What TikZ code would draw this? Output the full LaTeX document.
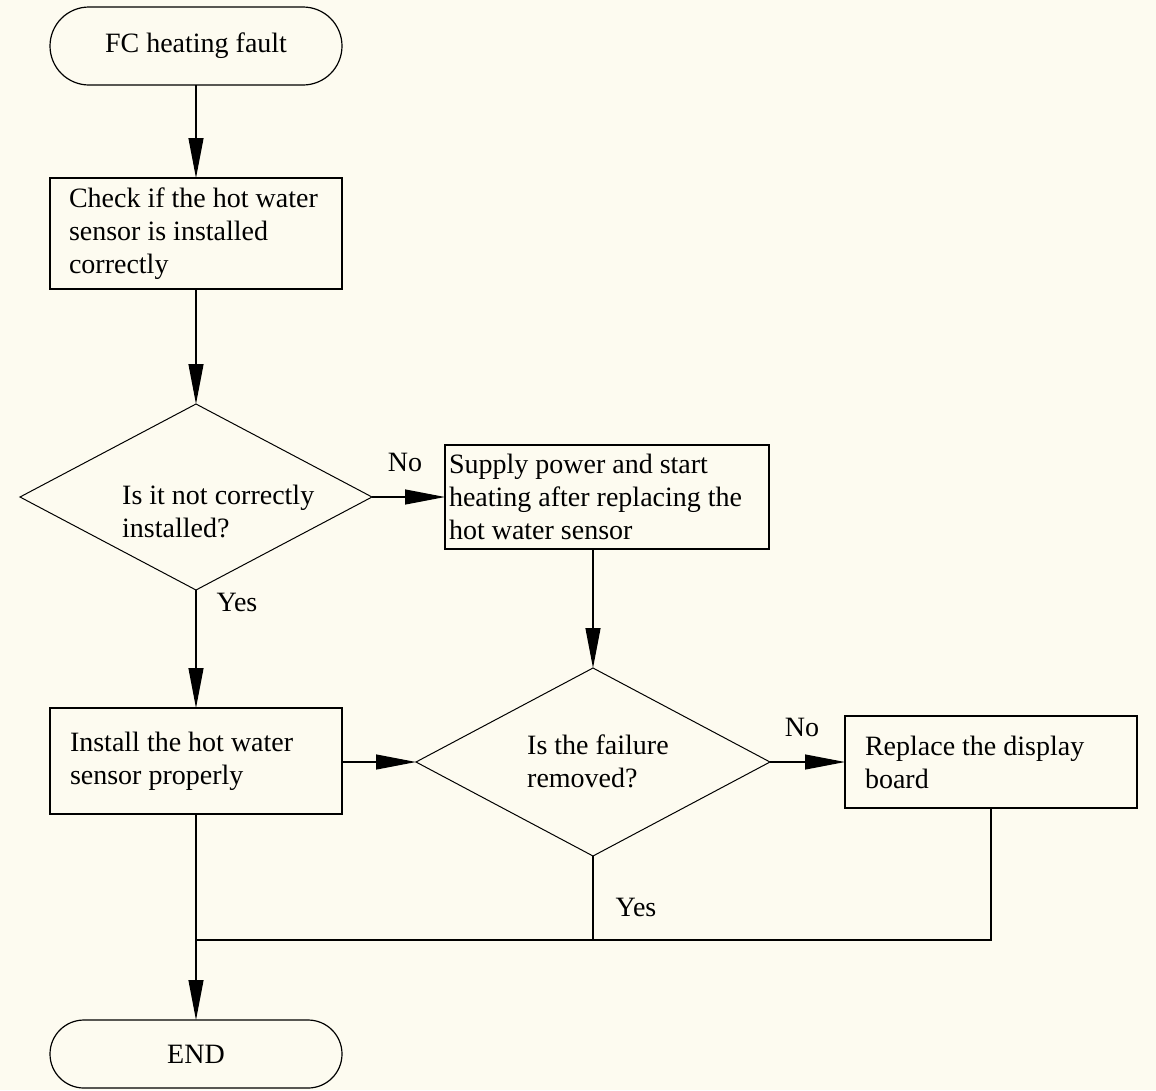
\documentclass[tikz,border=0pt]{standalone}
\usepackage{fontspec}
\setmainfont{Liberation Serif}
\usetikzlibrary{arrows.meta,shapes.geometric}
\definecolor{bg}{HTML}{FDFBF0}
\begin{document}
\begin{tikzpicture}[x=1pt,y=-1pt,
  every node/.style={font=\fontsize{28}{33}\selectfont},
  term/.style={draw, line width=1.2pt, rectangle, rounded corners=#1, minimum width=292pt, inner sep=0pt, outer sep=0pt, fill=bg},
  box/.style={draw, line width=1.2pt, rectangle, anchor=north west, align=flush left, inner ysep=0pt, outer sep=0pt, fill=bg},
  dia/.style={draw, line width=1pt, diamond, inner sep=0pt, outer sep=0pt, fill=bg},
  lbl/.style={align=flush left, anchor=west, inner sep=0pt},
  arr/.style={-{Triangle[length=40pt,width=15pt]}, line width=1.2pt},
  ln/.style={line width=1.2pt}
]
\fill[bg] (0,0) rectangle (1156,1090);
\useasboundingbox (0,0) rectangle (1156,1090);

\node[term=39pt, minimum height=78pt] (start) at (196,46) {FC heating fault};
\node[box, minimum width=292pt, minimum height=111pt, text width=254pt, inner xsep=19pt] (b1) at (50,178) {Check if the hot water\\sensor is installed\\correctly};
\node[dia, minimum width=352pt, minimum height=186pt] (d1) at (196,497) {};
\node[lbl] (t1) at (122,511.5) {Is it not correctly\\installed?};
\node[box, minimum width=324pt, minimum height=104pt, text width=316pt, inner xsep=4pt] (b2) at (445,445) {Supply power and start\\heating after replacing the\\hot water sensor};
\node[box, minimum width=292pt, minimum height=106pt, text width=252pt, inner xsep=20pt] (b3) at (50,708) {Install the hot water\\sensor properly};
\node[dia, minimum width=354pt, minimum height=188pt] (d2) at (593,762) {};
\node[lbl] (t2) at (527,761.5) {Is the failure\\removed?};
\node[box, minimum width=292pt, minimum height=92pt, text width=252pt, inner xsep=20pt] (b4) at (845,716) {Replace the display\\board};
\node[term=34pt, minimum height=68pt] (end) at (196,1054) {END};

\node[inner sep=0pt] (no1) at (405,462) {No};
\node[inner sep=0pt] (yes1) at (237,602) {Yes};
\node[inner sep=0pt] (no2) at (802,727) {No};
\node[inner sep=0pt] (yes2) at (636,907) {Yes};

\coordinate (j) at (196,940);

\draw[arr] (start) -- (b1);
\draw[arr] (b1) -- (d1);
\draw[arr] (d1.east) -- (d1.east -| b2.west);
\draw[arr] (d1.south) -- (b3.north);
\draw[arr] (d2.north |- b2.south) -- (d2.north);
\draw[arr] (b3.east |- d2.west) -- (d2.west);
\draw[arr] (d2.east) -- (d2.east -| b4.west);
\draw[ln] (d2.south) |- (j);
\draw[ln] (b4.south) |- (j);
\draw[arr] (b3.south) -- (end.north);
\end{tikzpicture}
\end{document}
